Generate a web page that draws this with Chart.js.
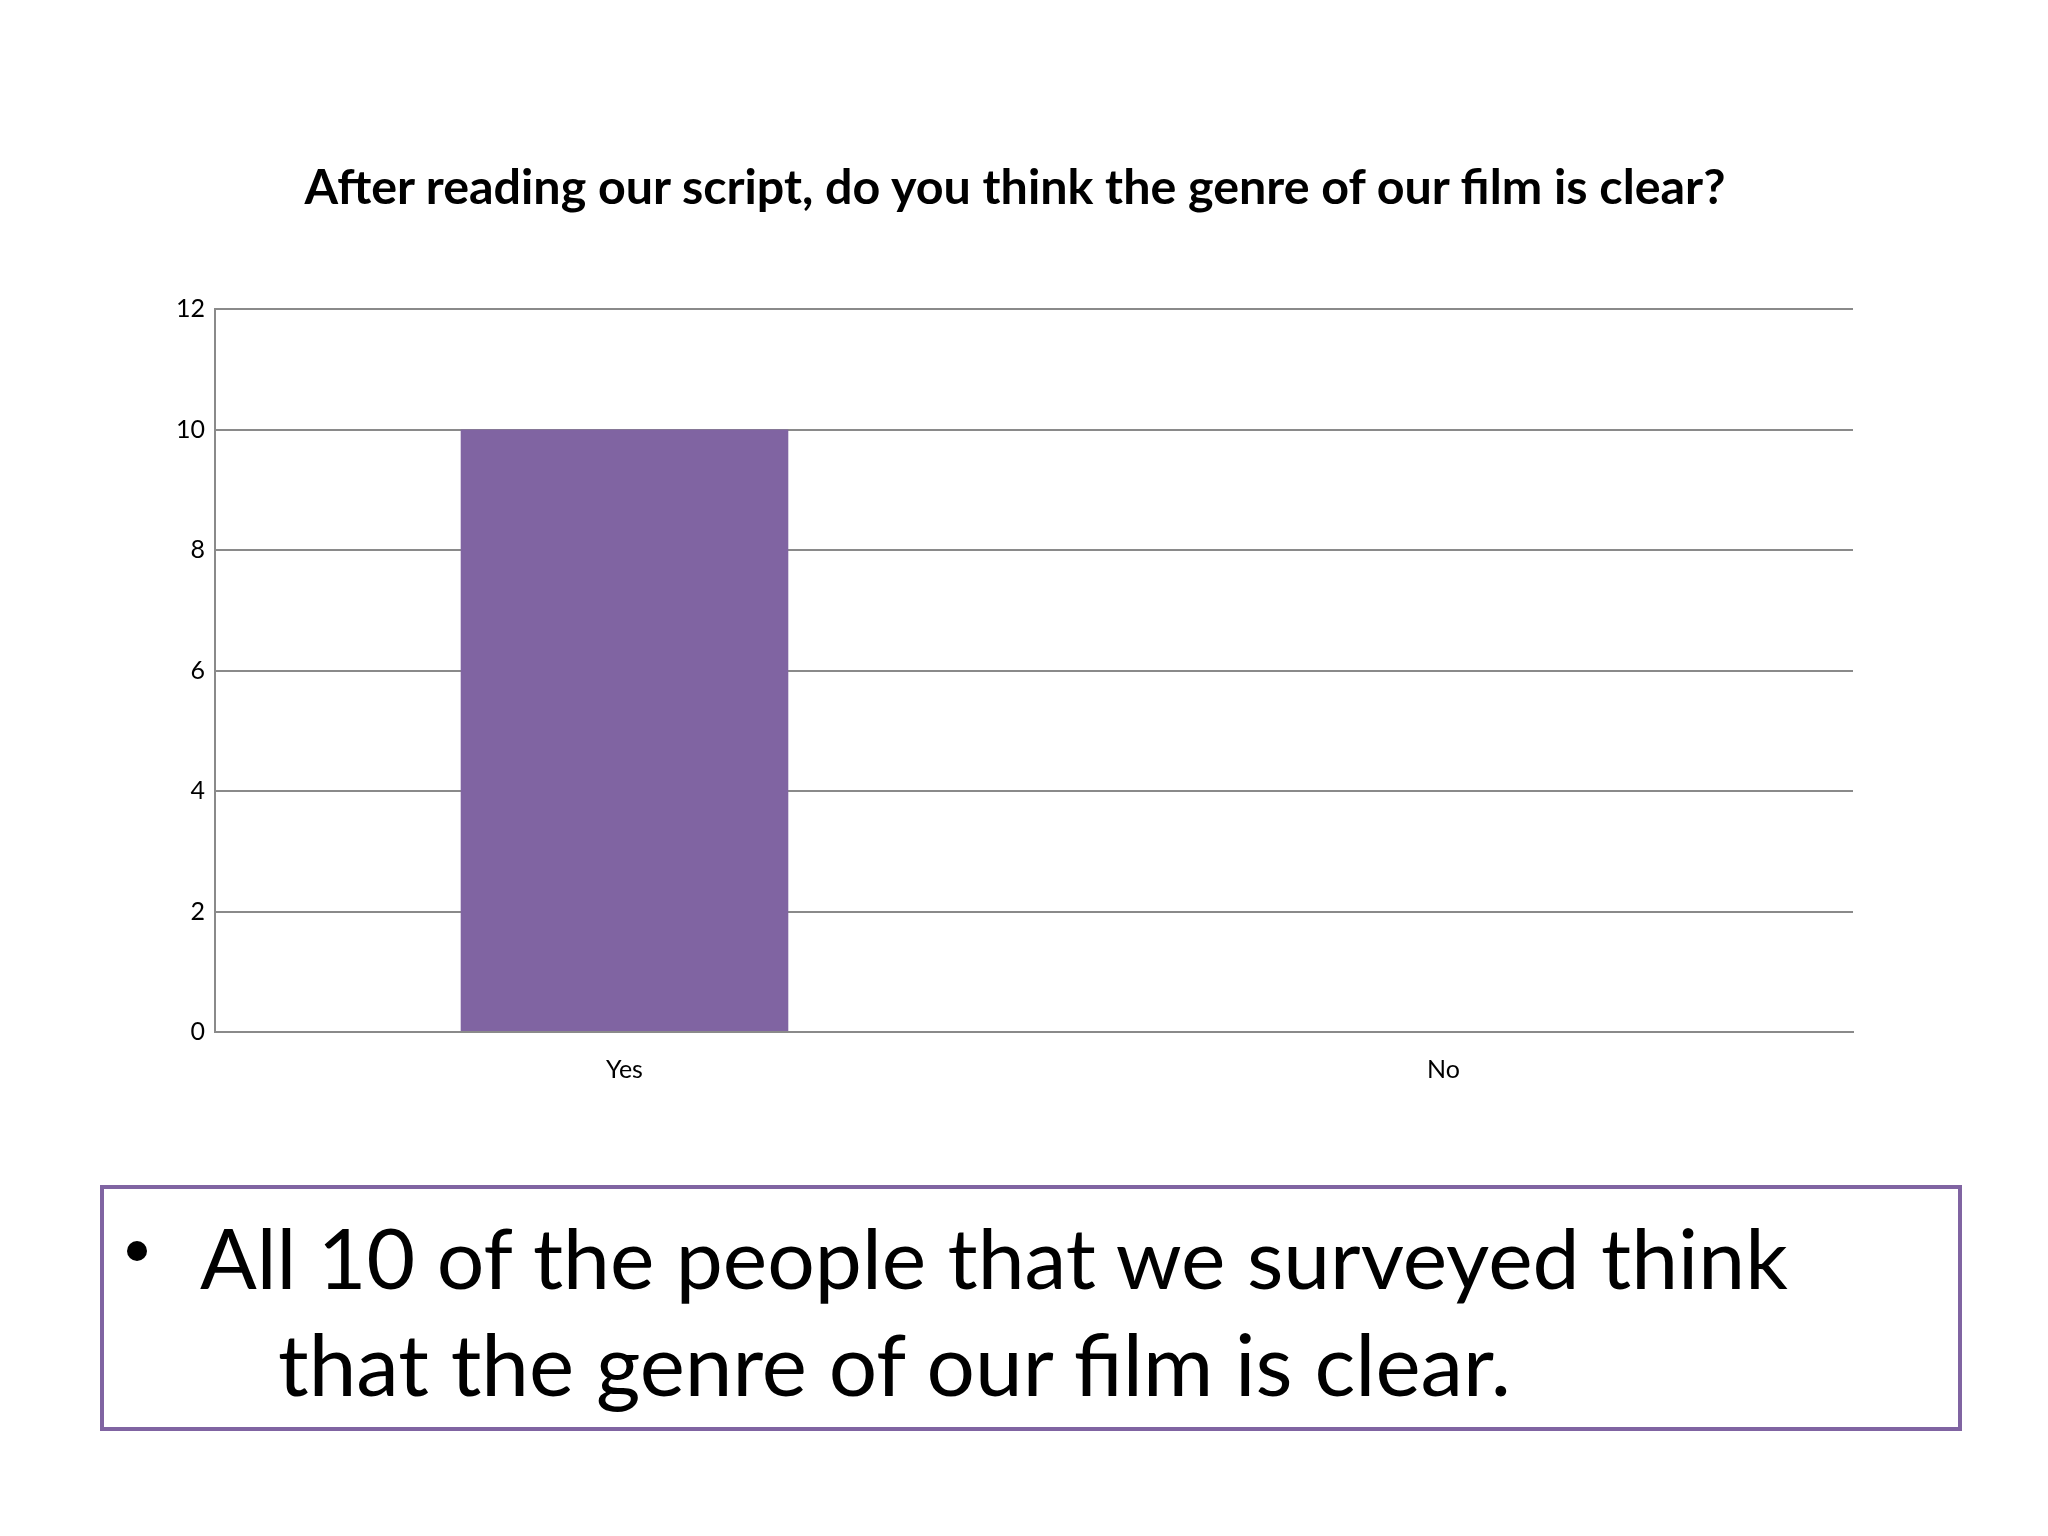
<!DOCTYPE html>
<html>
<head>
<meta charset="utf-8">
<script src="https://cdn.jsdelivr.net/npm/chart.js@4"></script>
<style>
  html, body { margin: 0; padding: 0; background: #ffffff; }
  #page { position: relative; width: 2048px; height: 1536px; overflow: hidden; background: #ffffff; }
  #c { position: absolute; left: 0; top: 0; }
  .txt { position: absolute; white-space: nowrap; line-height: 1; color: #000; font-family: Lato, "Open Sans", sans-serif; }
  #title { font-weight: 700; font-size: 40px; }
  #box { position: absolute; left: 100px; top: 1185px; width: 1862px; height: 246px; border: 4px solid #8064A2; box-sizing: border-box; background: #fff; }
  #bullet { position: absolute; width: 20px; height: 20px; border-radius: 50%; background: #000; left: 127px; top: 1241px; }
  .body { font-size: 80px; }
</style>
</head>
<body>
<div id="page">
  <canvas id="c" width="2048" height="1536"></canvas>
  <div id="title" class="txt">After reading our script, do you think the genre of our film is clear?</div>
  <div id="box"></div>
  <div id="bullet"></div>
  <div id="line1" class="txt body">All 10 of the people that we surveyed think</div>
  <div id="line2" class="txt body">that the genre of our film is clear.</div>
</div>
<script>
// ---- data ----
const categories = ['Yes', 'No'];
const responses = [10, 0];
const yTicks = [0, 2, 4, 6, 8, 10, 12];

// ---- text layout (fit widths to reference) ----
function fitText(id, targetWidth, left, baseline, centerX) {
  const el = document.getElementById(id);
  let fs = parseFloat(getComputedStyle(el).fontSize);
  const w = el.getBoundingClientRect().width;
  fs = fs * targetWidth / w;
  el.style.fontSize = fs + 'px';
  const w2 = el.getBoundingClientRect().width;
  el.style.left = (centerX !== undefined ? centerX - w2 / 2 : left) + 'px';
  el.style.top = (baseline - 0.89 * fs) + 'px';
}
fitText('title', 1421, 0, 204, 1015);
fitText('line1', 1588, 200, 1290);
fitText('line2', 1233, 278, 1397);

// ---- chart ----
const gridColor = '#8a8a8a';
new Chart(document.getElementById('c'), {
  type: 'bar',
  data: {
    labels: categories,
    datasets: [{
      data: responses,
      backgroundColor: '#8064A2',
      borderWidth: 0,
      barPercentage: 0.4,
      categoryPercentage: 1.0
    }]
  },
  options: {
    responsive: false,
    animation: false,
    devicePixelRatio: 1,
    layout: { padding: { left: 0, top: 309, right: 195, bottom: 444 } },
    plugins: { legend: { display: false }, tooltip: { enabled: false }, title: { display: false } },
    scales: {
      x: {
        grid: { display: false, drawTicks: false },
        border: { display: true, color: gridColor, width: 2 },
        ticks: { color: '#000', font: { family: 'Lato', size: 25 }, padding: 23 },
        afterFit: s => { s.height = 60; }
      },
      y: {
        min: 0, max: 12,
        afterBuildTicks: s => { s.ticks = yTicks.map(v => ({ value: v })); },
        grid: { color: gridColor, lineWidth: 2, drawTicks: false },
        border: { display: true, color: gridColor, width: 2 },
        ticks: { color: '#000', font: { family: 'Lato', size: 25 }, padding: 10 },
        afterFit: s => { s.width = 215; }
      }
    }
  }
});
</script>
</body>
</html>
